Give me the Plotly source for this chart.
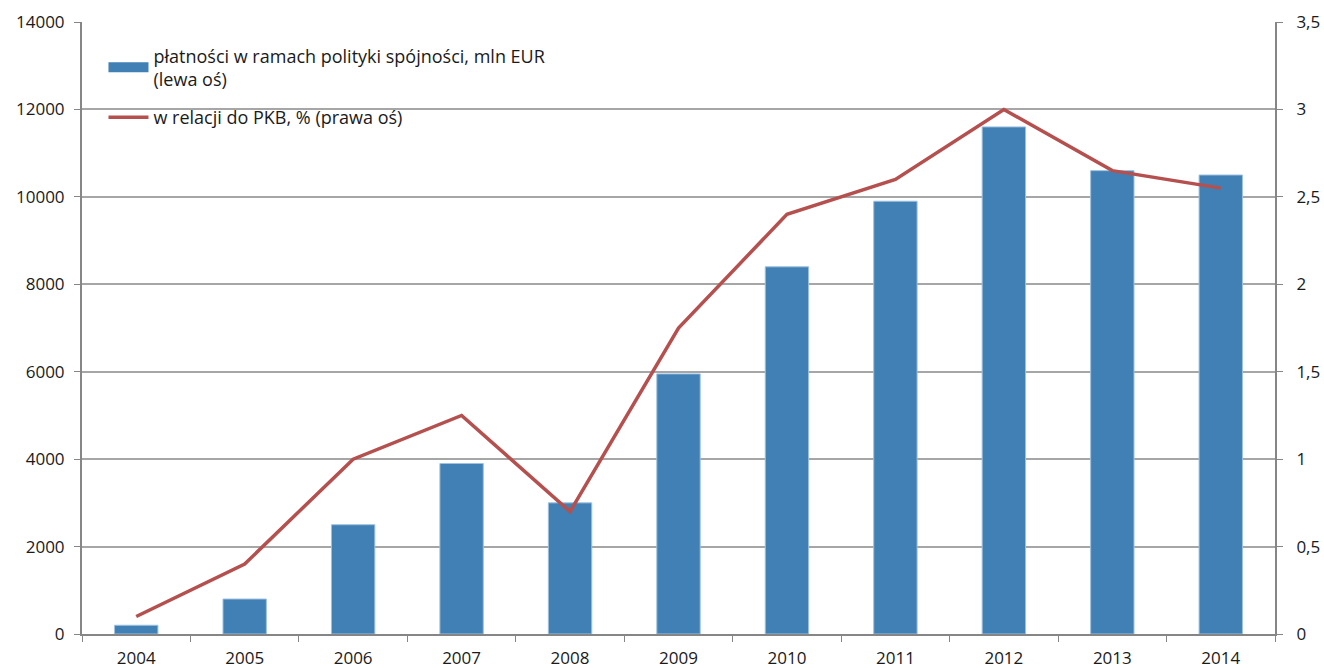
import plotly.graph_objects as go

years = ["2004", "2005", "2006", "2007", "2008", "2009", "2010", "2011", "2012", "2013", "2014"]
payments_mln_eur = [200, 800, 2500, 3900, 3000, 5950, 8400, 9900, 11600, 10600, 10500]
pct_gdp = [0.1, 0.4, 1.0, 1.25, 0.7, 1.75, 2.4, 2.6, 3.0, 2.65, 2.55]

bar_name = "płatności w ramach polityki spójności, mln EUR<br>(lewa oś)"
line_name = "w relacji do PKB, % (prawa oś)"

FONT = "Open Sans"
AXIS_COLOR = "#868686"
GRID_COLOR = "#a6a6a6"
BAR_COLOR = "#4080B4"
LINE_COLOR = "#B5504F"
TEXT_COLOR = "#1a1a1a"

fig = go.Figure()
fig.add_trace(go.Bar(
    x=years, y=payments_mln_eur, name=bar_name,
    marker=dict(color=BAR_COLOR, line=dict(color="#9FC0DE", width=1)),
    yaxis="y", showlegend=False,
))
# legend-only entry drawn as a wide rectangle, like the reference's legend key
fig.add_trace(go.Scatter(
    x=[None], y=[None], name=bar_name, mode="lines",
    line=dict(color=BAR_COLOR, width=11), legendgroup="a",
    yaxis="y",
))
fig.add_trace(go.Scatter(
    x=years, y=pct_gdp, name=line_name, mode="lines",
    line=dict(color=LINE_COLOR, width=3.5), legendgroup="b",
    yaxis="y2",
))

fig.update_layout(
    width=1324, height=668,
    margin=dict(l=82, r=49, t=22, b=34),
    paper_bgcolor="white", plot_bgcolor="white",
    separators=", ",
    font=dict(family=FONT, size=17, color=TEXT_COLOR),
    bargap=0.6,
    showlegend=True,
    legend=dict(
        x=0.018, y=0.975, xanchor="left", yanchor="top",
        bgcolor="rgba(0,0,0,0)", font=dict(family=FONT, size=18, color=TEXT_COLOR),
        itemwidth=40, traceorder="grouped", tracegroupgap=12,
    ),
    xaxis=dict(
        type="category", showline=True, linecolor=AXIS_COLOR, linewidth=2,
        ticks="outside", tickson="boundaries", ticklen=6, tickcolor=AXIS_COLOR,
        tickwidth=1, showgrid=False, tickfont=dict(size=17),
        automargin=False, ticklabelstandoff=8,
    ),
    yaxis=dict(
        range=[0, 14000], dtick=2000, tickformat="d",
        showline=True, linecolor=AXIS_COLOR, linewidth=2,
        ticks="outside", ticklen=6, tickcolor=AXIS_COLOR,
        showgrid=True, gridcolor=GRID_COLOR, gridwidth=1.5,
        zeroline=False, tickfont=dict(size=17),
        automargin=False, ticklabelstandoff=6,
    ),
    yaxis2=dict(
        range=[0, 3.5], dtick=0.5, overlaying="y", side="right",
        showline=True, linecolor=AXIS_COLOR, linewidth=2,
        ticks="outside", ticklen=6, tickcolor=AXIS_COLOR,
        showgrid=False, zeroline=False, tickfont=dict(size=17),
        automargin=False, ticklabelstandoff=10,
    ),
)

# remove the page's default 8px body margin so the figure fills the window exactly
fig.write_html(
    "out.html",
    config={"displayModeBar": False},
    post_script="document.body.style.margin='0';document.body.style.overflow='hidden';",
)
